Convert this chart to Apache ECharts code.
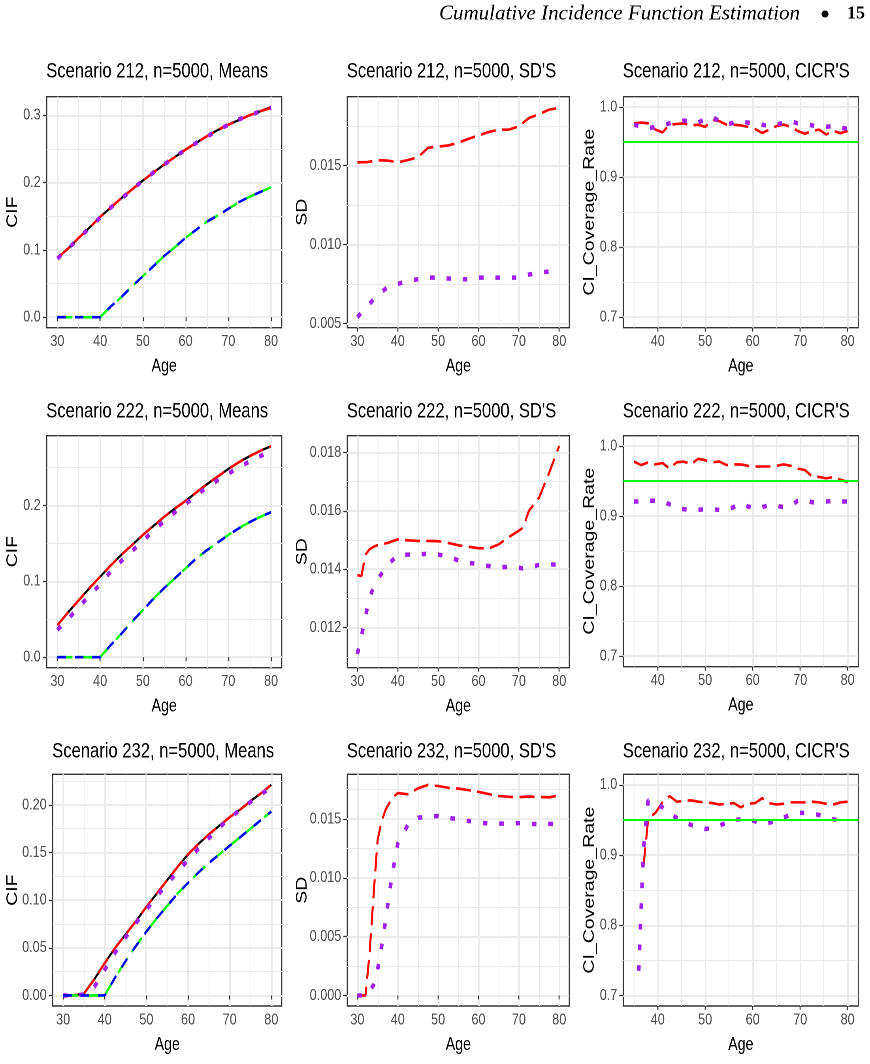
<!DOCTYPE html>
<html>
<head>
<meta charset="utf-8">
<title>Cumulative Incidence Function Estimation</title>
<script src="https://cdn.jsdelivr.net/npm/echarts@6/dist/echarts.min.js"></script>
<style>
  html, body { margin: 0; padding: 0; background: #fff; overflow: hidden; }
  #main { height: 1064px; transform-origin: 0 0; }
</style>
</head>
<body>
<div id="main"></div>
<script>
  // the figure is an R plot squeezed horizontally, so draw it wide and squeeze it the same way
  var W = 1101
  var S = 870 / W
  var SANS = '"Liberation Sans", Arial, sans-serif'

  // ---- ages (x) ----
  var ageMean = [30, 32.5, 35, 37.5, 40, 42.5, 45, 47.5, 50, 52.5, 55, 57.5, 60, 62.5, 65, 67.5, 70, 72.5, 75, 77.5, 80]
  var sdAge222 = [30, 31, 32, 33, 34, 35, 37.5, 40, 42.5, 45, 47.5, 50, 52.5, 55, 57.5, 60, 62.5, 65, 67.5, 70, 71, 72.5, 75, 77.5, 80]
  var sdAge232 = [30, 31, 32, 33, 34, 35, 36, 37, 38, 39, 40, 42.5, 45, 47.5, 50, 52.5, 55, 57.5, 60, 62.5, 65, 67.5, 70, 72.5, 75, 77.5, 80]
  var ciAge = [35, 36.5, 38, 39.5, 41, 42.5, 44, 45.5, 47, 48.5, 50, 51.5, 53, 54.5, 56, 57.5, 59, 60.5, 62, 63.5, 65, 66.5, 68, 69.5, 71, 72.5, 74, 75.5, 77, 78.5, 80]
  var ciAge232 = [36, 37, 38, 39.5, 41, 42.5, 44, 45.5, 47, 48.5, 50, 51.5, 53, 54.5, 56, 57.5, 59, 60.5, 62, 63.5, 65, 66.5, 68, 69.5, 71, 72.5, 74, 75.5, 77, 78.5, 80]

  // ---- scenario 212 ----
  var cif1True212 = [0.088, 0.102, 0.118, 0.133, 0.149, 0.163, 0.177, 0.190, 0.203, 0.215, 0.227, 0.238, 0.249, 0.259, 0.269, 0.278, 0.286, 0.293, 0.300, 0.306, 0.312]
  var cif1Est212 = [0.088, 0.102, 0.118, 0.133, 0.149, 0.163, 0.177, 0.190, 0.203, 0.215, 0.227, 0.238, 0.249, 0.259, 0.269, 0.278, 0.286, 0.293, 0.300, 0.306, 0.311]
  var cif1Naive212 = [0.087, 0.102, 0.117, 0.133, 0.148, 0.163, 0.176, 0.190, 0.203, 0.215, 0.227, 0.238, 0.249, 0.259, 0.268, 0.278, 0.286, 0.294, 0.300, 0.306, 0.311]
  var cif2True212 = [0, 0, 0, 0, 0, 0.016, 0.030, 0.046, 0.061, 0.076, 0.091, 0.104, 0.118, 0.130, 0.142, 0.151, 0.161, 0.171, 0.179, 0.186, 0.193]
  var cif2Est212 = [0, 0, 0, 0, 0, 0.016, 0.030, 0.046, 0.061, 0.076, 0.091, 0.104, 0.118, 0.130, 0.142, 0.151, 0.161, 0.171, 0.179, 0.186, 0.193]
  var sdEst212 = [0.01521, 0.01523, 0.01534, 0.01532, 0.01521, 0.01536, 0.01553, 0.01613, 0.01621, 0.01628, 0.01645, 0.01670, 0.01691, 0.01713, 0.01728, 0.01728, 0.01749, 0.01802, 0.01826, 0.01855, 0.01866]
  var sdNaive212 = [0.0054, 0.0061, 0.0068, 0.0073, 0.0075, 0.0077, 0.0078, 0.0079, 0.0079, 0.00785, 0.0078, 0.0078, 0.0079, 0.0079, 0.0079, 0.0079, 0.0079, 0.0081, 0.0082, 0.0083, 0.0084]
  var ciEst212 = [0.977, 0.978, 0.977, 0.968, 0.964, 0.975, 0.976, 0.977, 0.974, 0.975, 0.972, 0.982, 0.980, 0.975, 0.975, 0.974, 0.972, 0.969, 0.963, 0.968, 0.973, 0.975, 0.972, 0.966, 0.962, 0.966, 0.968, 0.961, 0.966, 0.963, 0.966]
  var ciNaive212 = [0.975, 0.972, 0.970, 0.972, 0.974, 0.977, 0.979, 0.981, 0.979, 0.978, 0.983, 0.986, 0.980, 0.975, 0.978, 0.980, 0.978, 0.977, 0.975, 0.973, 0.975, 0.978, 0.980, 0.977, 0.976, 0.974, 0.972, 0.972, 0.973, 0.971, 0.969]

  // ---- scenario 222 ----
  var cif1True222 = [0.042, 0.059, 0.075, 0.091, 0.106, 0.121, 0.135, 0.148, 0.161, 0.173, 0.185, 0.196, 0.206, 0.217, 0.228, 0.238, 0.248, 0.257, 0.265, 0.272, 0.278]
  var cif1Est222 = [0.042, 0.059, 0.075, 0.091, 0.106, 0.121, 0.135, 0.148, 0.161, 0.173, 0.185, 0.196, 0.206, 0.217, 0.228, 0.238, 0.248, 0.257, 0.265, 0.272, 0.278]
  var cif1Naive222 = [0.036, 0.050, 0.066, 0.081, 0.096, 0.113, 0.127, 0.140, 0.153, 0.167, 0.179, 0.191, 0.202, 0.213, 0.224, 0.233, 0.242, 0.250, 0.258, 0.265, 0.271]
  var cif2True222 = [0, 0, 0, 0, 0, 0.016, 0.031, 0.047, 0.062, 0.077, 0.091, 0.104, 0.117, 0.130, 0.141, 0.151, 0.161, 0.170, 0.178, 0.185, 0.191]
  var cif2Est222 = [0, 0, 0, 0, 0, 0.016, 0.031, 0.047, 0.062, 0.077, 0.091, 0.104, 0.117, 0.130, 0.141, 0.151, 0.161, 0.170, 0.178, 0.185, 0.191]
  var sdEst222 = [0.0138, 0.01377, 0.0145, 0.01468, 0.01477, 0.01482, 0.0149, 0.01502, 0.01499, 0.01497, 0.01497, 0.01496, 0.0149, 0.01482, 0.01477, 0.01472, 0.01471, 0.01485, 0.0151, 0.01532, 0.01542, 0.0160, 0.01645, 0.0173, 0.01822]
  var sdNaive222 = [0.0111, 0.0117, 0.0124, 0.0130, 0.0134, 0.01365, 0.01415, 0.01448, 0.01450, 0.01450, 0.01453, 0.0145, 0.01444, 0.01430, 0.01422, 0.01417, 0.01411, 0.01407, 0.01408, 0.01405, 0.01403, 0.01405, 0.01415, 0.01417, 0.01415]
  var ciEst222 = [0.978, 0.973, 0.977, 0.974, 0.976, 0.968, 0.977, 0.978, 0.974, 0.982, 0.980, 0.977, 0.978, 0.973, 0.974, 0.974, 0.972, 0.971, 0.971, 0.971, 0.972, 0.974, 0.972, 0.968, 0.966, 0.957, 0.956, 0.954, 0.956, 0.952, 0.949]
  var ciNaive222 = [0.921, 0.921, 0.922, 0.922, 0.921, 0.917, 0.912, 0.910, 0.909, 0.909, 0.910, 0.910, 0.909, 0.909, 0.913, 0.918, 0.914, 0.911, 0.913, 0.916, 0.915, 0.913, 0.915, 0.922, 0.924, 0.920, 0.920, 0.921, 0.922, 0.921, 0.921]

  // ---- scenario 232 ----
  var cif1True232 = [0, 0, 0.002, 0.017, 0.034, 0.050, 0.064, 0.078, 0.093, 0.107, 0.121, 0.135, 0.148, 0.159, 0.169, 0.178, 0.187, 0.195, 0.204, 0.212, 0.221]
  var cif1Est232 = [0, 0, 0.002, 0.017, 0.034, 0.050, 0.064, 0.078, 0.093, 0.107, 0.121, 0.135, 0.148, 0.159, 0.169, 0.178, 0.187, 0.195, 0.204, 0.212, 0.221]
  var cif1Naive232 = [0, 0, 0.001, 0.009, 0.027, 0.045, 0.061, 0.076, 0.090, 0.104, 0.117, 0.130, 0.142, 0.154, 0.165, 0.176, 0.186, 0.195, 0.203, 0.211, 0.218]
  var cif2True232 = [0, 0, 0, 0, 0, 0.019, 0.036, 0.052, 0.067, 0.081, 0.094, 0.107, 0.118, 0.129, 0.139, 0.148, 0.157, 0.166, 0.175, 0.184, 0.193]
  var cif2Est232 = [0, 0, 0, 0, 0, 0.019, 0.036, 0.052, 0.067, 0.081, 0.094, 0.107, 0.118, 0.129, 0.139, 0.148, 0.157, 0.166, 0.175, 0.184, 0.193]
  var sdEst232 = [0, 0, 0, 0.0035, 0.0085, 0.0132, 0.0148, 0.0158, 0.0164, 0.0169, 0.0172, 0.0171, 0.0176, 0.0179, 0.0178, 0.01765, 0.01758, 0.01745, 0.0173, 0.01712, 0.01695, 0.01688, 0.01686, 0.0169, 0.01686, 0.01684, 0.0170]
  var sdNaive232 = [0, 0, 0, 0.0003, 0.0009, 0.0022, 0.0042, 0.0064, 0.0089, 0.0110, 0.0129, 0.0145, 0.0151, 0.0152, 0.01525, 0.0151, 0.01498, 0.01483, 0.01472, 0.0146, 0.0146, 0.0146, 0.01465, 0.0146, 0.01455, 0.01458, 0.01458]
  var ciEst232 = [null, 0.884, 0.952, 0.960, 0.975, 0.984, 0.976, 0.977, 0.978, 0.976, 0.975, 0.974, 0.972, 0.973, 0.974, 0.968, 0.973, 0.974, 0.981, 0.974, 0.972, 0.973, 0.975, 0.975, 0.975, 0.976, 0.975, 0.973, 0.972, 0.975, 0.976]
  var ciNaive232 = [0.735, 0.909, 0.978, 0.974, 0.968, 0.959, 0.953, 0.947, 0.943, 0.939, 0.937, 0.939, 0.942, 0.946, 0.950, 0.951, 0.951, 0.948, 0.944, 0.946, 0.949, 0.953, 0.958, 0.960, 0.960, 0.959, 0.957, 0.955, 0.951, 0.949, 0.947]

  var nominal = 0.95

  // ---- tick values ----
  var xTicksMain = [30, 40, 50, 60, 70, 80]
  var xMinorMain = [35, 45, 55, 65, 75]
  var xTicksCI = [40, 50, 60, 70, 80]
  var xMinorCI = [35, 45, 55, 65, 75]
  var yTicksCI = [0.7, 0.8, 0.9, 1.0]
  var yMinorCI = [0.75, 0.85, 0.95]

  var grids = [], xAxes = [], yAxes = [], series = [], titles = []

  function pairs(xs, ys) {
    return xs.map(function (x, i) { return [x, ys[i]] })
  }

  // box is given in on-screen pixels, converted to the wide canvas here
  function addPanel(p) {
    var g = grids.length
    grids.push({
      left: p.box[0] / S, top: p.box[1], width: p.box[2] / S, height: p.box[3],
      show: true, borderColor: '#333333', borderWidth: 1.4, backgroundColor: '#ffffff'
    })
    titles.push({
      text: p.title, left: (p.box[0] - 0.5) / S, top: p.titleTop, padding: 0,
      textStyle: { fontFamily: SANS, fontSize: 21, fontWeight: 'normal', color: '#000' }
    })
    var tickStyle = { color: '#333333', width: 1.3 }
    xAxes.push({
      type: 'value', gridIndex: g, min: p.xRange[0], max: p.xRange[1],
      name: 'Age', nameLocation: 'middle', nameGap: 30,
      nameTextStyle: { fontFamily: SANS, fontSize: 18, color: '#000' },
      axisLine: { show: false },
      axisTick: { show: true, length: 4, customValues: p.xMajor, lineStyle: tickStyle },
      axisLabel: { customValues: p.xMajor, margin: 6, color: '#4d4d4d', fontSize: 16, fontFamily: SANS },
      splitLine: { show: true, lineStyle: { color: '#ebebeb', width: 2 } }
    })
    // minor vertical grid lines
    xAxes.push({
      type: 'value', gridIndex: g, position: 'top', min: p.xRange[0], max: p.xRange[1],
      axisLine: { show: false },
      axisTick: { show: false, customValues: p.xMinor },
      axisLabel: { show: false },
      splitLine: { show: true, lineStyle: { color: '#ebebeb', width: 1 } }
    })
    yAxes.push({
      type: 'value', gridIndex: g, min: p.yRange[0], max: p.yRange[1],
      name: p.yName, nameLocation: 'middle', nameGap: p.yNameGap / S, nameMoveOverlap: false,
      nameTextStyle: { fontFamily: SANS, fontSize: 19.5, color: '#000' },
      axisLine: { show: false },
      axisTick: { show: true, length: 4 / S, customValues: p.yMajor, lineStyle: tickStyle },
      axisLabel: {
        customValues: p.yMajor, margin: 6 / S, color: '#4d4d4d', fontSize: 16, fontFamily: SANS,
        formatter: function (v) { return v.toFixed(p.yDigits) }
      },
      splitLine: { show: true, lineStyle: { color: '#ebebeb', width: 2 } }
    })
    // minor horizontal grid lines
    yAxes.push({
      type: 'value', gridIndex: g, position: 'right', min: p.yRange[0], max: p.yRange[1],
      axisLine: { show: false },
      axisTick: { show: false, customValues: p.yMinor },
      axisLabel: { show: false },
      splitLine: { show: true, lineStyle: { color: '#ebebeb', width: 1 } }
    })
    p.lines.forEach(function (l) {
      var s = {
        type: 'line', xAxisIndex: 2 * g, yAxisIndex: 2 * g,
        data: pairs(l.x, l.y), showSymbol: false, symbol: 'none', silent: true,
        connectNulls: false,
        lineStyle: { color: l.color, width: l.width, type: l.dash || 'solid', cap: 'butt' }
      }
      if (l.hline != null) {
        s.markLine = {
          silent: true, symbol: 'none', label: { show: false },
          lineStyle: { color: '#00ff00', width: 2, type: 'solid' },
          data: [{ yAxis: l.hline }]
        }
      }
      series.push(s)
    })
  }

  var RED = '#ff0000', PURPLE = '#a020f0', BLACK = '#000000', GREEN = '#00ff00', BLUE = '#0000ff'
  var redDash = [19, 8], dotDash = [5.7, 15], greenDash = [19, 8], blueDash = [11, 11]

  function meansLines(t1, e1, n1, t2, e2) {
    return [
      { x: ageMean, y: t1, color: BLACK, width: 2.4 },
      { x: ageMean, y: e1, color: RED, width: 2.6, dash: redDash },
      { x: ageMean, y: n1, color: PURPLE, width: 4.5, dash: dotDash },
      { x: ageMean, y: t2, color: GREEN, width: 2.6, dash: greenDash },
      { x: ageMean, y: e2, color: BLUE, width: 2.6, dash: blueDash }
    ]
  }
  function sdLines(xs, est, naive) {
    return [
      { x: xs, y: est, color: RED, width: 2.6, dash: redDash },
      { x: xs, y: naive, color: PURPLE, width: 4.5, dash: dotDash }
    ]
  }
  function ciLines(xs, est, naive) {
    return [
      { x: xs, y: est, color: RED, width: 2.6, dash: redDash, hline: nominal },
      { x: xs, y: naive, color: PURPLE, width: 4.5, dash: dotDash }
    ]
  }

  // row 1
  addPanel({
    title: 'Scenario 212, n=5000, Means', titleTop: 61, box: [46.7, 96.7, 235, 231],
    xRange: [27.5, 82.5], xMajor: xTicksMain, xMinor: xMinorMain,
    yRange: [-0.0156, 0.3276], yMajor: [0, 0.1, 0.2, 0.3], yMinor: [0.05, 0.15, 0.25], yDigits: 1,
    yName: 'CIF', yNameGap: 26,
    lines: meansLines(cif1True212, cif1Est212, cif1Naive212, cif2True212, cif2Est212)
  })
  addPanel({
    title: "Scenario 212, n=5000, SD'S", titleTop: 61, box: [347.3, 96.7, 222, 231],
    xRange: [27.5, 82.5], xMajor: xTicksMain, xMinor: xMinorMain,
    yRange: [0.00473, 0.01937], yMajor: [0.005, 0.010, 0.015], yMinor: [0.0075, 0.0125, 0.0175], yDigits: 3,
    yName: 'SD', yNameGap: 37,
    lines: sdLines(ageMean, sdEst212, sdNaive212)
  })
  addPanel({
    title: "Scenario 212, n=5000, CICR'S", titleTop: 61, box: [623.3, 96.7, 235, 231],
    xRange: [32.75, 82.25], xMajor: xTicksCI, xMinor: xMinorCI,
    yRange: [0.685, 1.015], yMajor: yTicksCI, yMinor: yMinorCI, yDigits: 1,
    yName: 'CI_Coverage_Rate', yNameGap: 26,
    lines: ciLines(ciAge, ciEst212, ciNaive212)
  })

  // row 2
  addPanel({
    title: 'Scenario 222, n=5000, Means', titleTop: 401, box: [46.7, 435.7, 235, 232],
    xRange: [27.5, 82.5], xMajor: xTicksMain, xMinor: xMinorMain,
    yRange: [-0.0139, 0.2919], yMajor: [0, 0.1, 0.2], yMinor: [0.05, 0.15, 0.25], yDigits: 1,
    yName: 'CIF', yNameGap: 26,
    lines: meansLines(cif1True222, cif1Est222, cif1Naive222, cif2True222, cif2Est222)
  })
  addPanel({
    title: "Scenario 222, n=5000, SD'S", titleTop: 401, box: [347.3, 435.7, 222, 232],
    xRange: [27.5, 82.5], xMajor: xTicksMain, xMinor: xMinorMain,
    yRange: [0.01063, 0.01857], yMajor: [0.012, 0.014, 0.016, 0.018], yMinor: [0.011, 0.013, 0.015, 0.017], yDigits: 3,
    yName: 'SD', yNameGap: 37,
    lines: sdLines(sdAge222, sdEst222, sdNaive222)
  })
  addPanel({
    title: "Scenario 222, n=5000, CICR'S", titleTop: 401, box: [623.3, 435.7, 235, 231],
    xRange: [32.75, 82.25], xMajor: xTicksCI, xMinor: xMinorCI,
    yRange: [0.685, 1.015], yMajor: yTicksCI, yMinor: yMinorCI, yDigits: 1,
    yName: 'CI_Coverage_Rate', yNameGap: 26,
    lines: ciLines(ciAge, ciEst222, ciNaive222)
  })

  // row 3
  addPanel({
    title: 'Scenario 232, n=5000, Means', titleTop: 741, box: [52.7, 774.3, 229, 231.7],
    xRange: [27.5, 82.5], xMajor: xTicksMain, xMinor: xMinorMain,
    yRange: [-0.01105, 0.23205], yMajor: [0, 0.05, 0.10, 0.15, 0.20], yMinor: [0.025, 0.075, 0.125, 0.175, 0.225], yDigits: 2,
    yName: 'CIF', yNameGap: 32,
    lines: meansLines(cif1True232, cif1Est232, cif1Naive232, cif2True232, cif2Est232)
  })
  addPanel({
    title: "Scenario 232, n=5000, SD'S", titleTop: 741, box: [347.3, 774.3, 222, 231.7],
    xRange: [27.5, 82.5], xMajor: xTicksMain, xMinor: xMinorMain,
    yRange: [-0.000895, 0.018795], yMajor: [0, 0.005, 0.010, 0.015], yMinor: [0.0025, 0.0075, 0.0125, 0.0175], yDigits: 3,
    yName: 'SD', yNameGap: 37,
    lines: sdLines(sdAge232, sdEst232, sdNaive232)
  })
  addPanel({
    title: "Scenario 232, n=5000, CICR'S", titleTop: 741, box: [623.3, 774.3, 235, 231.7],
    xRange: [32.75, 82.25], xMajor: xTicksCI, xMinor: xMinorCI,
    yRange: [0.685, 1.015], yMajor: yTicksCI, yMinor: yMinorCI, yDigits: 1,
    yName: 'CI_Coverage_Rate', yNameGap: 26,
    lines: ciLines(ciAge232, ciEst232, ciNaive232)
  })

  var el = document.getElementById('main')
  el.style.width = W + 'px'
  el.style.transform = 'scaleX(' + S + ')'

  var chart = echarts.init(el, null, { renderer: 'canvas', devicePixelRatio: 2 })
  chart.setOption({
    animation: false,
    backgroundColor: '#ffffff',
    title: titles,
    grid: grids,
    xAxis: xAxes,
    yAxis: yAxes,
    series: series,
    // page header, un-squeezed
    graphic: [
      {
        type: 'text', x: 800 / S, y: 14, scaleX: 1 / S, silent: true,
        style: {
          text: 'Cumulative Incidence Function Estimation', fill: '#000',
          font: 'italic 21px "Liberation Serif", serif', textAlign: 'right', textVerticalAlign: 'middle'
        }
      },
      { type: 'circle', x: 825 / S, y: 14, scaleX: 1 / S, shape: { cx: 0, cy: 0, r: 3.5 }, style: { fill: '#000' }, silent: true },
      {
        type: 'text', x: 847 / S, y: 14, scaleX: 1 / S, silent: true,
        style: {
          text: '15', fill: '#000',
          font: 'bold 18px "Liberation Serif", serif', textAlign: 'left', textVerticalAlign: 'middle'
        }
      }
    ]
  })
</script>
</body>
</html>
